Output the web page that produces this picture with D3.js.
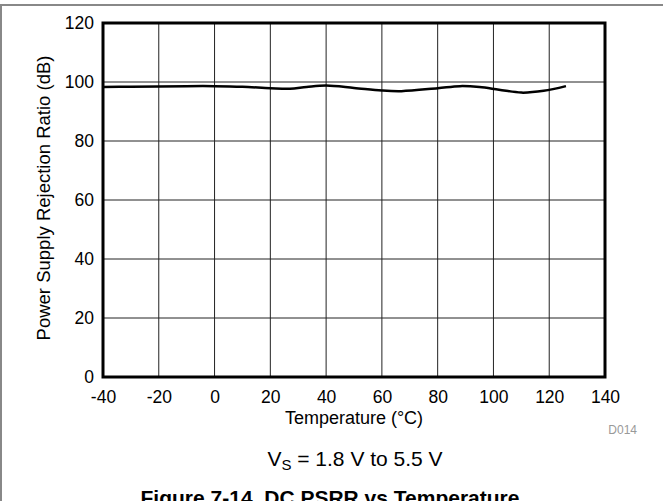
<!DOCTYPE html>
<html>
<head>
<meta charset="utf-8">
<script src="https://cdn.jsdelivr.net/npm/d3@7"></script>
<style>
  body { margin: 0; background: #fff; }
  svg { display: block; font-family: "Liberation Sans", Arial, sans-serif; }
</style>
</head>
<body>
<div id="chart"></div>
<script>
// PSRR vs temperature
var temps = [-40, -30, -20, -10, 0, 10, 20, 27, 33, 40, 50, 60, 67, 80, 88, 95, 102, 110, 118, 126];
var psrr  = [98.3, 98.4, 98.5, 98.6, 98.6, 98.4, 97.9, 97.7, 98.3, 98.8, 98.0, 97.1, 96.9, 97.9, 98.6, 98.3, 97.4, 96.4, 97.0, 98.6];
var xTicks = [-40, -20, 0, 20, 40, 60, 80, 100, 120, 140];
var yTicks = [0, 20, 40, 60, 80, 100, 120];

var W = 663, H = 501;
var margin = {top: 23, right: 58, bottom: 124, left: 103},
    width = W - margin.left - margin.right,
    height = H - margin.top - margin.bottom;

var svg = d3.select("#chart").append("svg")
    .attr("width", W)
    .attr("height", H);

// outer figure frame (only top and left edges are in view)
svg.append("path")
    .attr("d", "M 1 501 L 1 5 L 663 5")
    .attr("fill", "none")
    .attr("stroke", "#888")
    .attr("stroke-width", 2);

var g = svg.append("g")
    .attr("transform", "translate(" + margin.left + "," + margin.top + ")");

var x = d3.scaleLinear().domain([-40, 140]).range([0, width]);
var y = d3.scaleLinear().domain([0, 120]).range([height, 0]);

// grid
g.selectAll("line.vgrid")
  .data(xTicks)
  .enter().append("line")
    .attr("class", "vgrid")
    .attr("x1", function(d) { return x(d); })
    .attr("x2", function(d) { return x(d); })
    .attr("y1", 0)
    .attr("y2", height)
    .attr("stroke", "#222")
    .attr("stroke-width", 1);

g.selectAll("line.hgrid")
  .data(yTicks)
  .enter().append("line")
    .attr("class", "hgrid")
    .attr("x1", 0)
    .attr("x2", width)
    .attr("y1", function(d) { return y(d); })
    .attr("y2", function(d) { return y(d); })
    .attr("stroke", "#222")
    .attr("stroke-width", 1);

// axes, labels only (plain hyphen for negatives, like the original)
var fmt = function(d) { return String(d); };
var xAxis = g.append("g")
    .attr("transform", "translate(0," + height + ")")
    .call(d3.axisBottom(x).tickValues(xTicks).tickFormat(fmt).tickSize(0).tickPadding(14));
var yAxis = g.append("g")
    .call(d3.axisLeft(y).tickValues(yTicks).tickFormat(fmt).tickSize(0).tickPadding(9));
[xAxis, yAxis].forEach(function(a) {
  a.select(".domain").remove();
  a.selectAll("text")
    .attr("font-family", "Liberation Sans, Arial, sans-serif")
    .attr("font-size", "17.5px")
    .attr("fill", "#000");
});

// plot frame
g.append("rect")
    .attr("x", 0)
    .attr("y", 0)
    .attr("width", width)
    .attr("height", height)
    .attr("fill", "none")
    .attr("stroke", "#000")
    .attr("stroke-width", 3);

// data line
var line = d3.line()
    .x(function(d, i) { return x(temps[i]); })
    .y(function(d) { return y(d); })
    .curve(d3.curveCatmullRom.alpha(0.5));

g.append("path")
    .datum(psrr)
    .attr("d", line)
    .attr("fill", "none")
    .attr("stroke", "#000")
    .attr("stroke-width", 2.5);

// axis titles
g.append("text")
    .attr("x", width / 2)
    .attr("y", height + 47)
    .attr("text-anchor", "middle")
    .attr("font-size", "18px")
    .text("Temperature (°C)");

svg.append("text")
    .attr("transform", "translate(50," + (margin.top + height / 2 - 2) + ") rotate(-90)")
    .attr("text-anchor", "middle")
    .attr("font-size", "18.5px")
    .text("Power Supply Rejection Ratio (dB)");

svg.append("text")
    .attr("x", 637)
    .attr("y", 434)
    .attr("text-anchor", "end")
    .attr("font-size", "12px")
    .attr("fill", "#999")
    .text("D014");

// condition note
var note = svg.append("text")
    .attr("x", 355)
    .attr("y", 466)
    .attr("text-anchor", "middle")
    .attr("font-size", "21px");
note.append("tspan").text("V");
note.append("tspan").attr("font-size", "15px").attr("dy", 4).text("S");
note.append("tspan").attr("dy", -4).text(" = 1.8 V to 5.5 V");

svg.append("text")
    .attr("x", 330)
    .attr("y", 505)
    .attr("text-anchor", "middle")
    .attr("font-size", "21px")
    .attr("font-weight", "bold")
    .text("Figure 7-14. DC PSRR vs Temperature");
</script>
</body>
</html>
